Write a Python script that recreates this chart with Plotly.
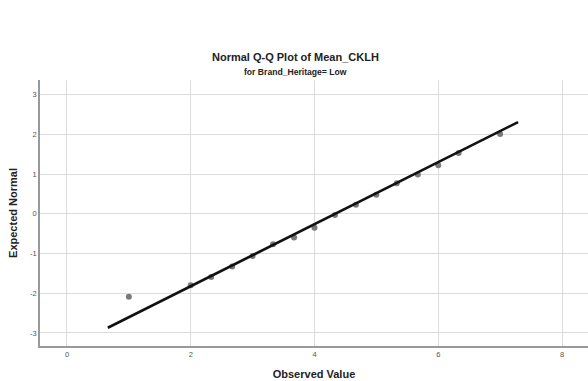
import plotly.graph_objects as go

observed = [1.0, 2.0, 2.33, 2.67, 3.0, 3.33, 3.67, 4.0, 4.33, 4.67, 5.0, 5.33, 5.67, 6.0, 6.33, 7.0]
expected = [-2.09, -1.80, -1.59, -1.33, -1.06, -0.77, -0.60, -0.35, -0.03, 0.23, 0.48, 0.77, 0.99, 1.22, 1.53, 2.01]
line_x = [0.66, 7.29]
line_y = [-2.87, 2.31]
x_ticks = [0, 2, 4, 6, 8]
y_ticks = [-3, -2, -1, 0, 1, 2, 3]

FONT = "Liberation Sans, Arial, sans-serif"

fig = go.Figure()
fig.add_trace(go.Scatter(x=observed, y=expected, mode="markers",
                         marker=dict(color="#7a7a7a", size=6, line=dict(width=0)),
                         showlegend=False, hoverinfo="skip"))
fig.add_trace(go.Scatter(x=line_x, y=line_y, mode="lines",
                         line=dict(color="#111111", width=2.6),
                         showlegend=False, hoverinfo="skip"))

fig.update_layout(
    width=588, height=381,
    margin=dict(l=40, r=0, t=80, b=35),
    paper_bgcolor="white", plot_bgcolor="white",
    font=dict(family=FONT, color="#333"),
    xaxis=dict(range=[-0.436, 8.42], tickvals=x_ticks, ticktext=[str(v) for v in x_ticks],
               showgrid=True, gridcolor="#dcdcdc", gridwidth=1.2, zeroline=False,
               showline=True, linecolor="#999", linewidth=1.5,
               ticks="", tickfont=dict(size=7.5, color="#555", family=FONT),
               title=dict(text="<b>Observed Value</b>", font=dict(size=11, color="#222", family=FONT),
                          standoff=13)),
    yaxis=dict(range=[-3.33, 3.37], tickvals=y_ticks, ticktext=[str(v) for v in y_ticks],
               showgrid=True, gridcolor="#dcdcdc", gridwidth=1.2, zeroline=False,
               showline=True, linecolor="#999", linewidth=1.5,
               ticks="", tickfont=dict(size=7.5, color="#555", family=FONT),
               title=dict(text="<b>Expected Normal</b>", font=dict(size=11, color="#222", family=FONT),
                          standoff=10)),
    annotations=[
        dict(text="<b>Normal Q-Q Plot of Mean_CKLH</b>", x=0.5, y=57, xref="paper", yref="paper",
             showarrow=False, font=dict(size=11, color="#222", family=FONT)),
        dict(text="<b>for Brand_Heritage= Low</b>", x=0.5, y=72, xref="paper", yref="paper",
             showarrow=False, font=dict(size=8.6, color="#222", family=FONT)),
    ],
)
# convert pixel y positions of titles into paper coordinates
plot_top, plot_h = 80, 381 - 80 - 35
plot_left, plot_w = 40, 588 - 40
for ann in fig.layout.annotations:
    ann.y = (plot_top + plot_h - ann.y) / plot_h
    ann.x = (295 - plot_left) / plot_w
    ann.yanchor = "middle"

fig.write_html("out.html")
